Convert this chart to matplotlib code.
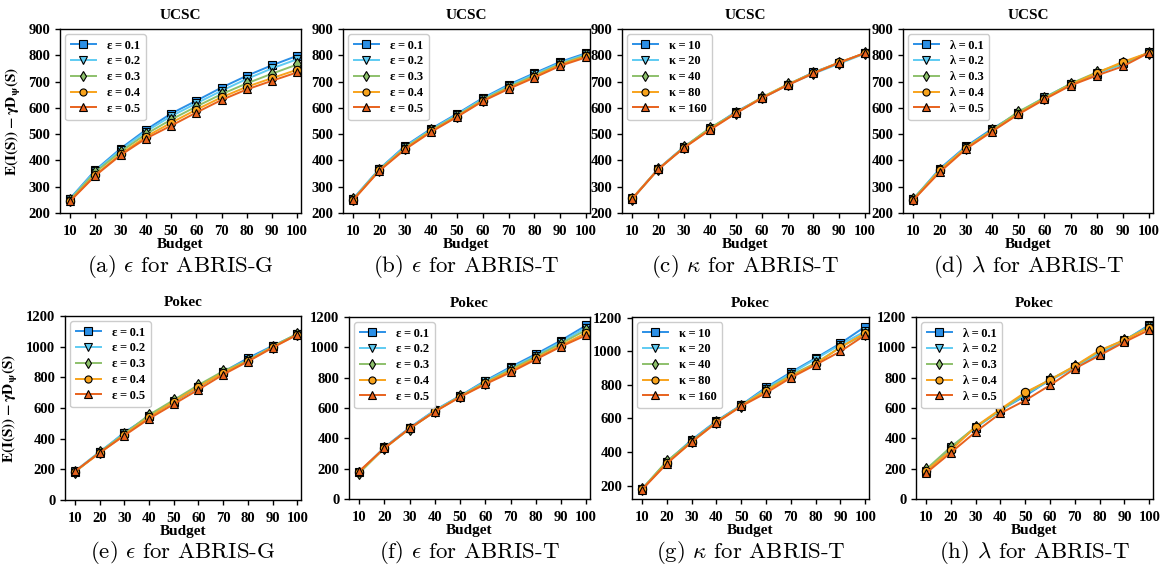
import numpy as np
import matplotlib
matplotlib.use("Agg")
import matplotlib.pyplot as plt

plt.rcParams['font.family'] = ['Liberation Serif', 'DejaVu Serif']
plt.rcParams['font.weight'] = 'bold'
plt.rcParams['mathtext.fontset'] = 'stix'

budget = [10, 20, 30, 40, 50, 60, 70, 80, 90, 100]

eps_labels = ['ε\u2009=\u20090.1', 'ε\u2009=\u20090.2', 'ε\u2009=\u20090.3', 'ε\u2009=\u20090.4', 'ε\u2009=\u20090.5']
kap_labels = ['κ\u2009=\u200910', 'κ\u2009=\u200920', 'κ\u2009=\u200940', 'κ\u2009=\u200980', 'κ\u2009=\u2009160']
lam_labels = ['λ\u2009=\u20090.1', 'λ\u2009=\u20090.2', 'λ\u2009=\u20090.3', 'λ\u2009=\u20090.4', 'λ\u2009=\u20090.5']

# UCSC
ucsc_eps_g = [
    [255, 363, 445, 516, 578, 627, 677, 722, 762, 798],
    [253, 360, 440, 510, 568, 617, 665, 710, 750, 785],
    [250, 355, 433, 500, 555, 605, 652, 693, 730, 765],
    [247, 345, 424, 490, 543, 593, 640, 680, 713, 745],
    [245, 342, 420, 483, 532, 582, 630, 670, 703, 735],
]
ucsc_eps_t = [
    [255, 367, 455, 520, 577, 637, 688, 732, 775, 808],
    [254, 366, 452, 517, 574, 634, 684, 728, 771, 804],
    [252, 364, 448, 514, 570, 630, 679, 723, 767, 800],
    [251, 362, 445, 511, 567, 627, 675, 719, 764, 796],
    [250, 360, 442, 508, 565, 625, 672, 715, 760, 792],
]
ucsc_kap_t = [
    [255, 368, 452, 520, 585, 637, 688, 735, 772, 808],
    [256, 367, 450, 522, 582, 636, 687, 730, 768, 807],
    [254, 366, 451, 524, 580, 640, 689, 733, 772, 809],
    [256, 367, 449, 518, 581, 638, 688, 733, 773, 808],
    [254, 366, 448, 516, 579, 636, 686, 731, 772, 809],
]
ucsc_lam_t = [
    [253, 368, 453, 520, 580, 638, 690, 730, 770, 810],
    [255, 365, 450, 515, 582, 640, 690, 732, 765, 812],
    [255, 362, 448, 515, 585, 638, 692, 735, 770, 810],
    [250, 362, 447, 512, 578, 635, 688, 733, 775, 810],
    [250, 355, 443, 510, 575, 632, 685, 723, 758, 810],
]

# Pokec
pokec_eps_g = [
    [185, 310, 440, 545, 640, 735, 835, 925, 1005, 1080],
    [188, 315, 435, 548, 645, 740, 838, 915, 1002, 1082],
    [182, 312, 430, 555, 652, 750, 840, 910, 1000, 1085],
    [185, 305, 425, 540, 642, 738, 830, 905, 998, 1078],
    [187, 308, 420, 530, 625, 720, 818, 903, 993, 1078],
]
pokec_eps_t = [
    [175, 340, 470, 585, 680, 780, 870, 955, 1045, 1145],
    [172, 338, 468, 583, 678, 775, 862, 945, 1035, 1130],
    [170, 335, 462, 578, 677, 768, 853, 938, 1025, 1115],
    [178, 333, 465, 577, 675, 763, 845, 928, 1012, 1095],
    [183, 335, 465, 575, 672, 757, 835, 920, 1005, 1080],
]
pokec_kap_t = [
    [178, 340, 472, 585, 680, 785, 875, 960, 1048, 1148],
    [180, 342, 468, 582, 678, 778, 868, 955, 1040, 1120],
    [178, 345, 465, 580, 677, 770, 858, 930, 1025, 1105],
    [177, 335, 458, 577, 675, 765, 852, 925, 1025, 1110],
    [175, 330, 460, 575, 673, 752, 843, 920, 1000, 1098],
]
pokec_lam_t = [
    [180, 335, 470, 585, 680, 785, 870, 955, 1045, 1148],
    [185, 340, 472, 582, 690, 782, 868, 965, 1048, 1140],
    [195, 342, 475, 585, 695, 788, 875, 975, 1050, 1135],
    [185, 320, 477, 592, 703, 785, 878, 980, 1048, 1130],
    [170, 305, 442, 565, 650, 750, 860, 947, 1035, 1115],
]

colors = ['#2b8fe6', '#5ecbf2', '#8dc06b', '#f8a31c', '#e8621d']
markers = ['s', 'v', 'd', 'o', '^']

panels = [
    # data, labels, title, caption, ylim, yticks, rect(px: left, top, right, bottom)
    (ucsc_eps_g, eps_labels, 'UCSC', '(a) $\\epsilon$ for ABRIS-G', (200, 900), range(200, 901, 100), (60, 29, 301, 213)),
    (ucsc_eps_t, eps_labels, 'UCSC', '(b) $\\epsilon$ for ABRIS-T', (200, 900), range(200, 901, 100), (343, 29, 590, 213)),
    (ucsc_kap_t, kap_labels, 'UCSC', '(c) $\\kappa$ for ABRIS-T', (200, 900), range(200, 901, 100), (622, 29, 869, 213)),
    (ucsc_lam_t, lam_labels, 'UCSC', '(d) $\\lambda$ for ABRIS-T', (200, 900), range(200, 901, 100), (903, 29, 1153, 213)),
    (pokec_eps_g, eps_labels, 'Pokec', '(e) $\\epsilon$ for ABRIS-G', (0, 1200), range(0, 1201, 200), (65, 316, 301, 500)),
    (pokec_eps_t, eps_labels, 'Pokec', '(f) $\\epsilon$ for ABRIS-T', (0, 1200), range(0, 1201, 200), (349, 317, 590, 499)),
    (pokec_kap_t, kap_labels, 'Pokec', '(g) $\\kappa$ for ABRIS-T', (120, 1205), range(200, 1201, 200), (632, 317, 869, 499)),
    (pokec_lam_t, lam_labels, 'Pokec', '(h) $\\lambda$ for ABRIS-T', (0, 1200), range(0, 1201, 200), (916, 317, 1153, 499)),
]

W, H = 1162, 569
fig = plt.figure(figsize=(W / 100, H / 100), dpi=100)

for i, (data, labels, title, caption, ylim, yticks, rect) in enumerate(panels):
    l, t, r, b = rect
    ax = fig.add_axes([l / W, 1 - b / H, (r - l) / W, (b - t) / H])
    for s, series in enumerate(data):
        ax.plot(budget, series, color=colors[s], marker=markers[s], markersize=6,
                markeredgecolor='black', markeredgewidth=0.8, linewidth=1.4,
                label=labels[s])
    ax.set_xlim(6, 101.5)
    ax.set_ylim(*ylim)
    ax.set_xticks(budget)
    ax.set_yticks(list(yticks))
    ax.tick_params(labelsize=10.5, length=3.5, width=1)
    ax.tick_params(axis='x', pad=5)
    for lab in ax.get_xticklabels() + ax.get_yticklabels():
        lab.set_fontweight('bold')
    for sp in ax.spines.values():
        sp.set_linewidth(1.0)
    ax.set_title(title, fontsize=11, fontweight='bold', pad=7)
    ax.set_xlabel('Budget', fontsize=11, fontweight='bold', labelpad=0)
    if i % 4 == 0:
        ax.set_ylabel(r'$\mathbf{E(I(S))-\gamma D_{\psi}(S)}$', fontsize=11, labelpad=4)
    leg = ax.legend(loc='upper left', prop={'weight': 'bold', 'size': 9},
                    handlelength=2.0, borderpad=0.45, labelspacing=0.3,
                    handletextpad=0.9, markerscale=0.85, fancybox=True,
                    framealpha=1.0, borderaxespad=0.4)
    leg.get_frame().set_edgecolor('#cccccc')
    # caption under each panel
    cx = (l + r) / 2 / W
    cy = 1 - (b + 53) / H
    fig.text(cx, cy, caption, ha='center', va='center', fontsize=16.5,
             fontweight='normal', family='cmr10', math_fontfamily='cm')

fig.savefig('out.png', dpi=100)
